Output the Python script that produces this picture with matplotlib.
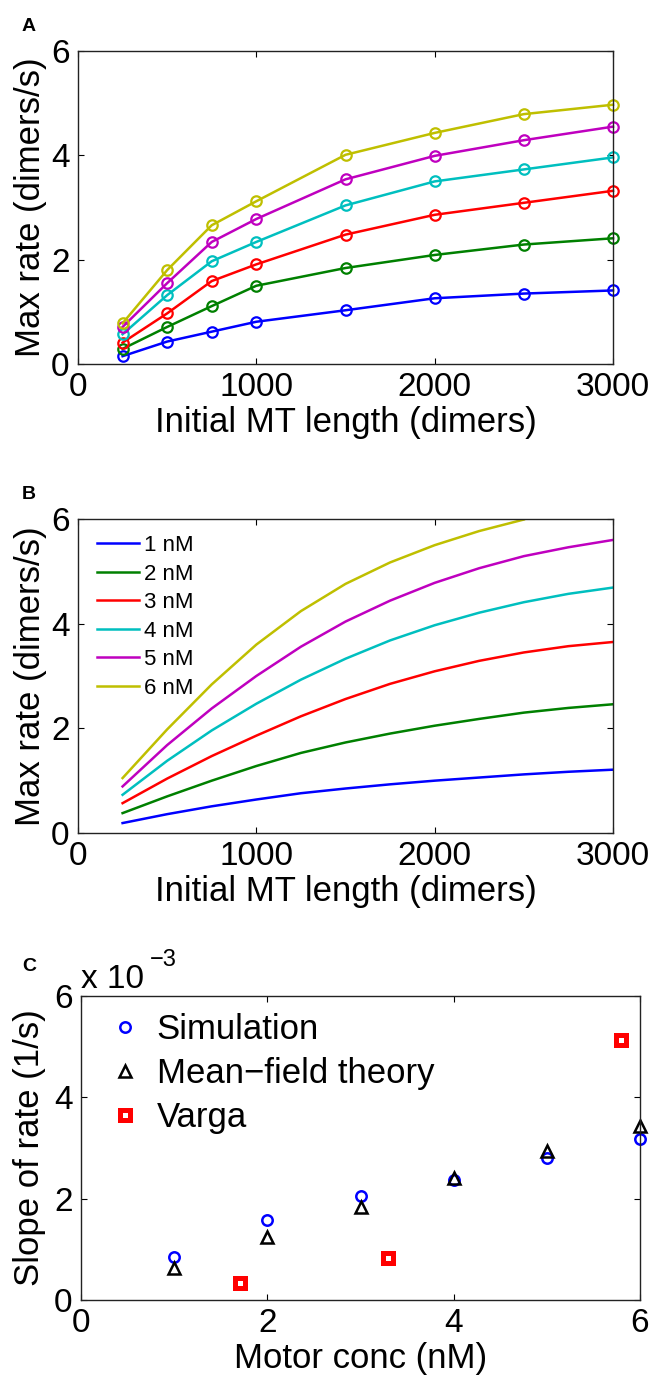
import numpy as np
import matplotlib
matplotlib.use('Agg')
from matplotlib import pyplot as plt

plt.rcParams['font.family'] = ['Liberation Sans', 'DejaVu Sans']

# panneau A : points de simulation
longueurs_a = [250, 500, 750, 1000, 1500, 2000, 2500, 3000]
taux_a_1nM = [0.15, 0.43, 0.62, 0.81, 1.03, 1.26, 1.35, 1.41]
taux_a_2nM = [0.29, 0.71, 1.11, 1.50, 1.84, 2.09, 2.29, 2.41]
taux_a_3nM = [0.41, 0.97, 1.59, 1.91, 2.48, 2.86, 3.09, 3.32]
taux_a_4nM = [0.57, 1.32, 1.97, 2.34, 3.04, 3.50, 3.73, 3.96]
taux_a_5nM = [0.71, 1.55, 2.34, 2.78, 3.54, 3.99, 4.29, 4.55]
taux_a_6nM = [0.78, 1.80, 2.66, 3.12, 4.01, 4.43, 4.79, 4.97]

# panneau B : courbes théoriques
longueurs_b = [250, 500, 750, 1000, 1250, 1500, 1750, 2000, 2250, 2500, 2750, 3000]
taux_b_1nM = [0.19, 0.36, 0.51, 0.64, 0.76, 0.85, 0.93, 1.00, 1.06, 1.12, 1.17, 1.21]
taux_b_2nM = [0.38, 0.70, 1.00, 1.28, 1.53, 1.73, 1.90, 2.05, 2.18, 2.30, 2.39, 2.46]
taux_b_3nM = [0.57, 1.04, 1.47, 1.86, 2.23, 2.56, 2.85, 3.09, 3.29, 3.45, 3.57, 3.65]
taux_b_4nM = [0.73, 1.38, 1.96, 2.47, 2.93, 3.33, 3.68, 3.97, 4.21, 4.41, 4.57, 4.69]
taux_b_5nM = [0.89, 1.68, 2.38, 3.00, 3.56, 4.04, 4.44, 4.78, 5.06, 5.29, 5.46, 5.60]
taux_b_6nM = [1.05, 1.98, 2.84, 3.60, 4.24, 4.76, 5.17, 5.50, 5.77, 5.99]

# panneau C : pentes (x 1e-3)
conc_sim = [1, 2, 3, 4, 5, 6]
pente_sim = [0.84, 1.58, 2.05, 2.37, 2.81, 3.18]
pente_mf = [0.63, 1.24, 1.83, 2.40, 2.95, 3.43]
conc_varga = [1.71, 3.30, 5.80]
pente_varga = [0.33, 0.82, 5.13]

couleurs = [(0, 0, 1), (0, 0.5, 0), (1, 0, 0), (0, 0.75, 0.75), (0.75, 0, 0.75), (0.75, 0.75, 0)]
noms = ['1 nM', '2 nM', '3 nM', '4 nM', '5 nM', '6 nM']

W, H = 663, 1379
fig = plt.figure(figsize=(W / 100, H / 100), dpi=100)


def axe(gauche, haut, droite, bas):
    return fig.add_axes([gauche / W, 1 - bas / H, (droite - gauche) / W, (bas - haut) / H])


def style(ax):
    ax.tick_params(direction='in', length=4, width=0.8, top=True, right=True,
                   labelsize=24, pad=6, colors='black')
    for s in ax.spines.values():
        s.set_linewidth(1.0)
        s.set_color('#222222')


# ----- A -----
ax_a = axe(78, 51, 613, 364)
series_a = [taux_a_1nM, taux_a_2nM, taux_a_3nM, taux_a_4nM, taux_a_5nM, taux_a_6nM]
for y, c in zip(series_a, couleurs):
    ax_a.plot(longueurs_a, y, '-o', color=c, lw=1.8, ms=7.5, mfc='none', mew=1.6, clip_on=False)
ax_a.set_xlim(0, 3000)
ax_a.set_ylim(0, 6)
ax_a.set_xticks([0, 1000, 2000, 3000])
ax_a.set_yticks([0, 2, 4, 6])
style(ax_a)
ax_a.set_xlabel('Initial MT length (dimers)', fontsize=25, labelpad=2)
ax_a.set_ylabel('Max rate (dimers/s)', fontsize=25)
ax_a.yaxis.set_label_coords(-0.058, 0.5)

# ----- B -----
ax_b = axe(78, 519, 613, 833)
series_b = [taux_b_1nM, taux_b_2nM, taux_b_3nM, taux_b_4nM, taux_b_5nM, taux_b_6nM]
for y, c, n in zip(series_b, couleurs, noms):
    ax_b.plot(longueurs_b[:len(y)], y, '-', color=c, lw=1.8, label=n)
ax_b.set_xlim(0, 3000)
ax_b.set_ylim(0, 6)
ax_b.set_xticks([0, 1000, 2000, 3000])
ax_b.set_yticks([0, 2, 4, 6])
style(ax_b)
ax_b.set_xlabel('Initial MT length (dimers)', fontsize=25, labelpad=2)
ax_b.set_ylabel('Max rate (dimers/s)', fontsize=25)
ax_b.yaxis.set_label_coords(-0.058, 0.5)
ax_b.legend(loc='upper left', bbox_to_anchor=(97 / W, 1 - 535 / H), bbox_transform=fig.transFigure,
            frameon=False, fontsize=16, handlelength=1.9, handletextpad=0.2,
            labelspacing=0.34, borderpad=0, borderaxespad=0)

# ----- C -----
ax_c = axe(81, 996, 640, 1300)
ax_c.plot(conc_sim, pente_sim, 'o', ls='none', color=(0, 0, 1), ms=7.5, mfc='none', mew=1.8,
          clip_on=False, label='Simulation')
ax_c.plot(conc_sim, pente_mf, '^', ls='none', color='black', ms=8, mfc='none', mew=1.8,
          clip_on=False, label='Mean\u2212field theory')
ax_c.plot(conc_varga, pente_varga, 's', ls='none', color='red', ms=7, mfc='white', mew=3.6,
          clip_on=False, label='Varga')
ax_c.set_xlim(0, 6)
ax_c.set_ylim(0, 6)
ax_c.set_xticks([0, 2, 4, 6])
ax_c.set_yticks([0, 2, 4, 6])
style(ax_c)
ax_c.set_xlabel('Motor conc (nM)', fontsize=25, labelpad=2)
ax_c.set_ylabel('Slope of rate (1/s)', fontsize=25)
ax_c.yaxis.set_label_coords(-0.062, 0.5)
ax_c.legend(loc='upper left', bbox_to_anchor=(108 / W, 1 - 1013 / H), bbox_transform=fig.transFigure,
            frameon=False, fontsize=25, handlelength=1.0, handletextpad=0.4, numpoints=1,
            labelspacing=0.32, borderpad=0, borderaxespad=0)

fig.text(81 / W, 1 - 988 / H, 'x 10', fontsize=24, va='baseline', ha='left')
fig.text(150 / W, 1 - 966 / H, '\u22123', fontsize=17, va='baseline', ha='left')

# étiquettes des panneaux
fig.text(22 / W, 1 - 31 / H, 'A', fontsize=14, fontweight='bold', va='baseline')
fig.text(22 / W, 1 - 499 / H, 'B', fontsize=14, fontweight='bold', va='baseline')
fig.text(22 / W, 1 - 971 / H, 'C', fontsize=14, fontweight='bold', va='baseline')

fig.savefig('out.png', dpi=100)
